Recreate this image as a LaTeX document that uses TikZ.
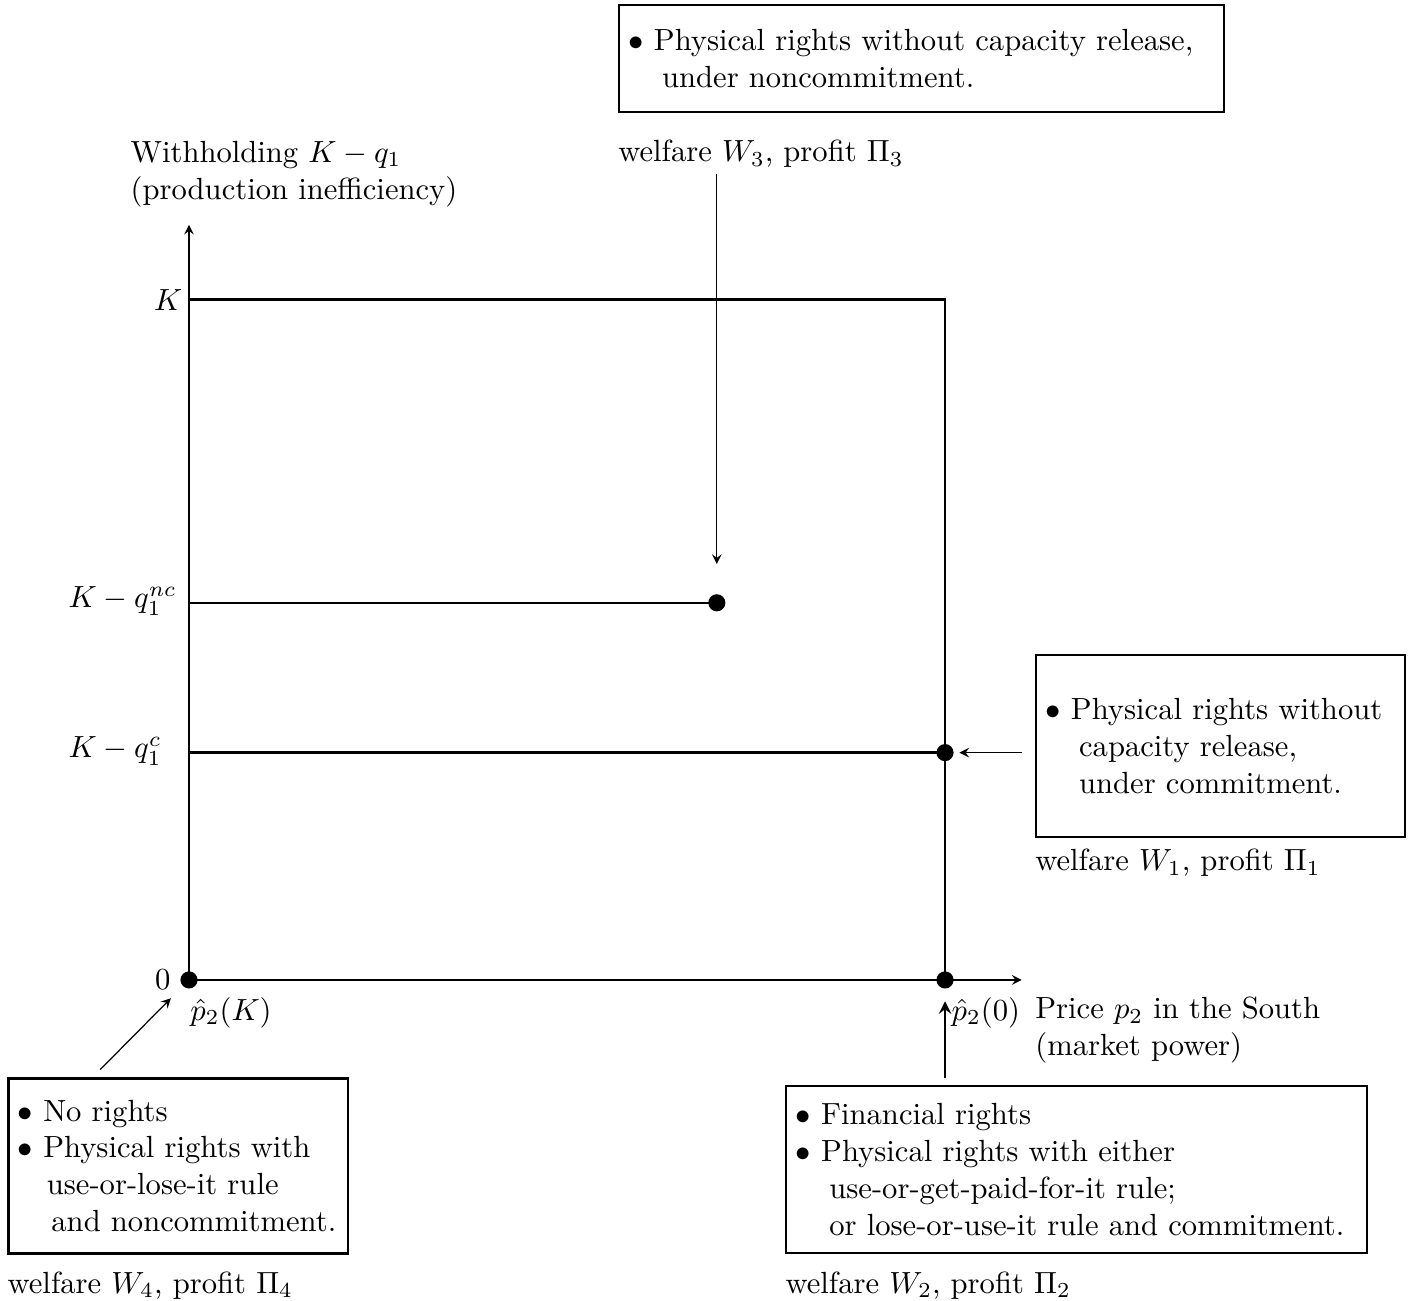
\documentclass[tikz,border=0pt]{standalone}
\usepackage{amssymb}
\usepackage{amsmath}
\usepackage{tikz}
\usetikzlibrary{positioning, arrows}
\tikzset{
    >=stealth, % small sharp arrow heads
    axis/.style={->, thin}, % the two axes
    frame/.style={thick}, % the solid lines of the diagram
    dot/.style={circle, fill=black, inner sep=0pt, minimum size=5.6pt}, % the outcome points
    regime/.style={draw, thick, align=left, inner xsep=3.1pt}, % boxes listing the rights regimes
    pointer/.style={->, thin}, % arrows from a box to its point
    plain/.style={inner sep=0pt}, % labels placed by hand
}

\begin{document}
\begin{tikzpicture}
    \useasboundingbox (-2.170,-3.685) rectangle (14.053,11.251);

    % points
    \node[dot] (dO) at (0,0) {};
    \node[dot] (dp0) at (8.68,0) {};
    \node[dot] (dc) at (8.68,2.61) {};
    \node[dot] (dnc) at (6.06,4.33) {};

    % axes and lines
    \draw[axis] (dO.center) -- (0,8.67);
    \draw[axis] (dO.center) -- (9.56,0);
    \draw[frame] (dO.center) -- (dp0.center) -- (8.68,7.81) -- (0,7.81) -- cycle;
    \draw[frame] (0,4.33) -- (dnc.center);
    \draw[frame] (0,2.61) -- (dc.center);

    % axis labels
    \node[plain, anchor=south west, align=left] (ylab) at (-0.677,8.87) {Withholding $K-q_1$\\(production inefficiency)};
    \node[plain, anchor=east] (lK) at (-0.07,7.81) {$K$};
    \node[plain, anchor=west] (lnc) at (-1.389,4.35) {$K-q_1^{nc}$};
    \node[plain, anchor=west] (lc) at (-1.389,2.63) {$K-q_1^{c}$};
    \node[plain, left=0.1cm of dO] (l0) {$0$};
    \node[plain, anchor=north west] (lpK) at (0.01,-0.19) {$\hat{p}_2(K)$};
    \node[plain, anchor=north west] (lp0) at (8.75,-0.19) {$\hat{p}_2(0)$};
    \node[plain, anchor=north west, align=left] (xlab) at (9.71,-0.19) {Price $p_2$ in the South\\(market power)};

    % regime boxes
    \node[regime, text width=6.73cm, minimum height=1.23cm] (topbox) at (8.41,10.58)
        {$\bullet$ Physical rights without capacity release,\\\hspace*{1.1em}under noncommitment.};
    \node[plain, below right=0.30cm and 0cm of topbox.south west] (w3) {welfare $W_3$, profit $\Pi_3$};

    \node[regime, text width=4.02cm, minimum height=2.09cm] (rightbox) at (11.843,2.687)
        {$\bullet$ Physical rights without\\\hspace*{1.1em}capacity release,\\\hspace*{1.1em}under commitment.};
    \node[plain, below right=0.12cm and 0cm of rightbox.south west] (w1) {welfare $W_1$, profit $\Pi_1$};

    \node[regime, text width=6.45cm, minimum height=1.92cm] (brbox) at (10.19,-2.176)
        {$\bullet$ Financial rights\\$\bullet$ Physical rights with either\\\hspace*{1.1em}use-or-get-paid-for-it rule;\\\hspace*{1.1em}or lose-or-use-it rule and commitment.};
    \node[plain, below right=0.19cm and 0cm of brbox.south west] (w2) {welfare $W_2$, profit $\Pi_2$};

    \node[regime, text width=3.68cm, minimum height=2.01cm] (blbox) at (-0.126,-2.135)
        {$\bullet$ No rights\\$\bullet$ Physical rights with\\\hspace*{0.95em}use-or-lose-it rule\\\hspace*{1.1em}and noncommitment.};
    \node[plain, below right=0.19cm and 0cm of blbox.south west] (w4) {welfare $W_4$, profit $\Pi_4$};

    % pointers
    \coordinate (blfoot) at (-1.02,-1.03);
    \draw[pointer, shorten <=0.07cm, shorten >=0.34cm] (dnc |- w3.south) -- (dnc);
    \draw[pointer, shorten <=0.15cm, shorten >=0.06cm] (rightbox.west |- dc) -- (dc);
    \draw[pointer, thick, shorten <=0.08cm, shorten >=0.14cm] (brbox.north -| dp0) -- (dp0);
    \draw[pointer, shorten >=0.19cm] (blfoot) -- (dO);
\end{tikzpicture}
\end{document}
